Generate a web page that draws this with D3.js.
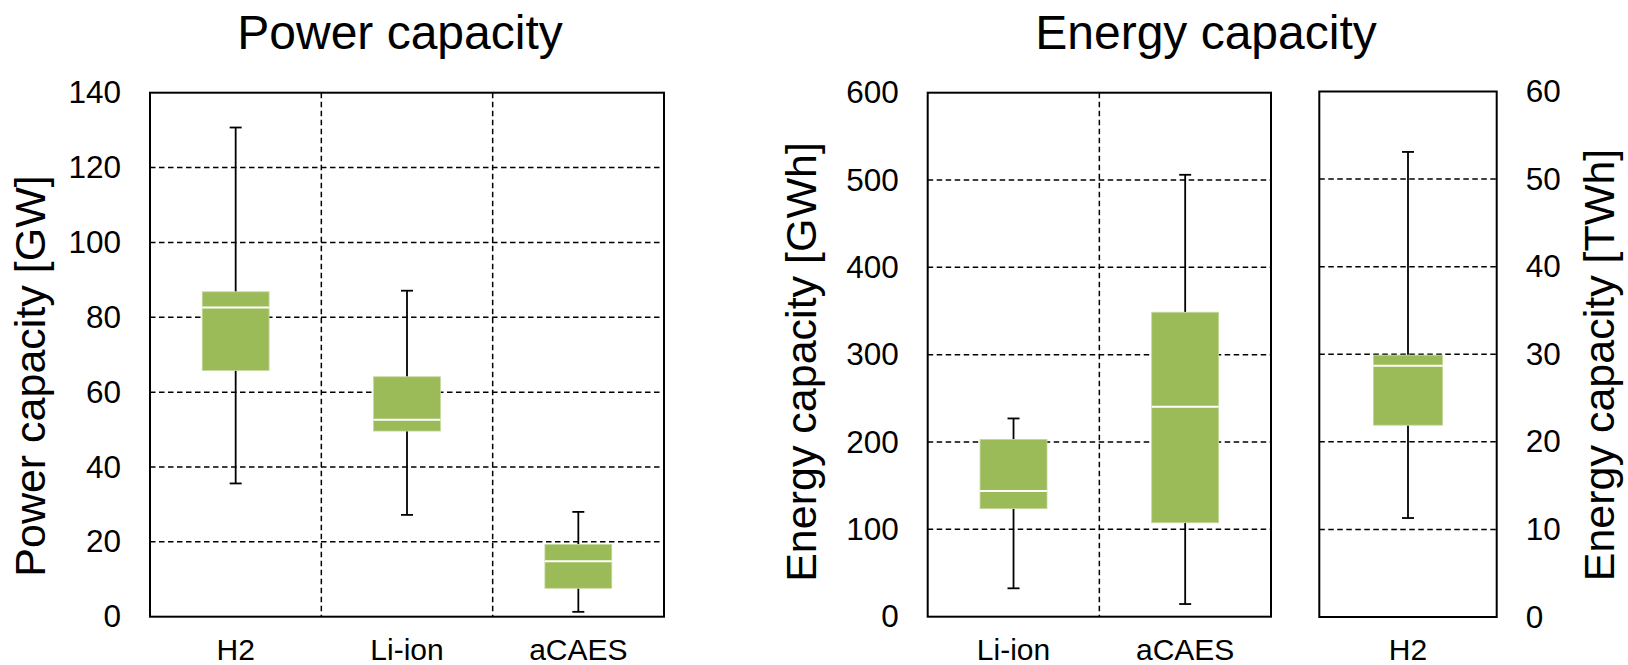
<!DOCTYPE html>
<html>
<head>
<meta charset="utf-8">
<script src="https://cdn.jsdelivr.net/npm/d3@7"></script>
<style>
  body { margin: 0; background: #fff; }
  text { font-family: "Liberation Sans", Arial, sans-serif; fill: #000; }
</style>
</head>
<body>
<div id="chart"></div>
<script>
// power capacity [GW]
var powerCats = ["H2", "Li-ion", "aCAES"];
var powerMin = [35.6, 27.2, 1.3];
var powerQ1 = [65.8, 49.6, 7.6];
var powerMed = [82.6, 52.6, 14.8];
var powerQ3 = [86.8, 64.1, 19.3];
var powerMax = [130.7, 87.1, 28.0];
var powerTicks = [0, 20, 40, 60, 80, 100, 120, 140];

// energy capacity [GWh]
var energyCats = ["Li-ion", "aCAES"];
var energyMin = [32.5, 14.5];
var energyQ1 = [123.7, 107.6];
var energyMed = [144, 240.5];
var energyQ3 = [203, 348.6];
var energyMax = [227, 506];
var energyTicks = [0, 100, 200, 300, 400, 500, 600];

// energy capacity [TWh]
var h2Cats = ["H2"];
var h2Min = [11.3];
var h2Q1 = [21.9];
var h2Med = [28.7];
var h2Q3 = [29.9];
var h2Max = [53.1];
var h2Ticks = [0, 10, 20, 30, 40, 50, 60];

var W = 1628, H = 665;
var green = "#9bbb59";

var svg = d3.select("#chart").append("svg")
    .attr("width", W)
    .attr("height", H);

function drawPanel(o) {
  var x = d3.scaleBand().domain(o.cats).range([o.x0, o.x1]).padding(0);
  var y = d3.scaleLinear().domain([o.ticks[0], o.ticks[o.ticks.length - 1]]).range([o.y1, o.y0]);
  var g = svg.append("g");

  // horizontal dashed grid
  g.selectAll(".hgrid")
      .data(o.ticks.slice(1, -1))
    .enter().append("line")
      .attr("x1", o.x0).attr("x2", o.x1)
      .attr("y1", function(d) { return y(d); })
      .attr("y2", function(d) { return y(d); })
      .attr("stroke", "#000")
      .attr("stroke-width", 1.5)
      .attr("stroke-dasharray", "5.5,3.5");

  // vertical dashed separators
  g.selectAll(".vgrid")
      .data(o.cats.slice(1))
    .enter().append("line")
      .attr("x1", function(d) { return x(d); })
      .attr("x2", function(d) { return x(d); })
      .attr("y1", o.y0).attr("y2", o.y1)
      .attr("stroke", "#000")
      .attr("stroke-width", 1.5)
      .attr("stroke-dasharray", "5.5,3.5");

  var bw = x.bandwidth() * 0.39;
  var cap = 12;
  o.cats.forEach(function(c, i) {
    var cx = x(c) + x.bandwidth() / 2;
    // whiskers
    g.append("line")
        .attr("x1", cx).attr("x2", cx)
        .attr("y1", y(o.max[i])).attr("y2", y(o.q3[i]))
        .attr("stroke", "#000").attr("stroke-width", 1.8);
    g.append("line")
        .attr("x1", cx).attr("x2", cx)
        .attr("y1", y(o.q1[i])).attr("y2", y(o.min[i]))
        .attr("stroke", "#000").attr("stroke-width", 1.8);
    g.append("line")
        .attr("x1", cx - cap / 2).attr("x2", cx + cap / 2)
        .attr("y1", y(o.max[i])).attr("y2", y(o.max[i]))
        .attr("stroke", "#000").attr("stroke-width", 1.8);
    g.append("line")
        .attr("x1", cx - cap / 2).attr("x2", cx + cap / 2)
        .attr("y1", y(o.min[i])).attr("y2", y(o.min[i]))
        .attr("stroke", "#000").attr("stroke-width", 1.8);
    // box
    g.append("rect")
        .attr("x", cx - bw / 2)
        .attr("y", y(o.q3[i]))
        .attr("width", bw)
        .attr("height", y(o.q1[i]) - y(o.q3[i]))
        .attr("fill", green)
        .attr("stroke", "#c4d79b")
        .attr("stroke-width", 0.8);
    // median
    g.append("line")
        .attr("x1", cx - bw / 2).attr("x2", cx + bw / 2)
        .attr("y1", y(o.med[i])).attr("y2", y(o.med[i]))
        .attr("stroke", "#fff").attr("stroke-width", 2);
  });

  // frame
  g.append("rect")
      .attr("x", o.x0).attr("y", o.y0)
      .attr("width", o.x1 - o.x0).attr("height", o.y1 - o.y0)
      .attr("fill", "none")
      .attr("stroke", "#000")
      .attr("stroke-width", 2);

  // y axis
  var yAxis = o.right ? d3.axisRight(y) : d3.axisLeft(y);
  var ya = g.append("g")
      .attr("transform", "translate(" + (o.right ? o.x1 : o.x0) + ",0)")
      .call(yAxis.tickValues(o.ticks).tickSize(0).tickPadding(29).tickFormat(d3.format("d")));
  ya.select(".domain").remove();
  ya.selectAll("text").style("font-size", "31.5px").attr("font-family", null);

  // x axis
  var xa = g.append("g")
      .attr("transform", "translate(0," + o.y1 + ")")
      .call(d3.axisBottom(x).tickSize(0).tickPadding(22));
  xa.select(".domain").remove();
  xa.selectAll("text").style("font-size", "30px").attr("font-family", null);
}

drawPanel({cats: powerCats, min: powerMin, q1: powerQ1, med: powerMed, q3: powerQ3, max: powerMax,
  ticks: powerTicks, x0: 150, x1: 664, y0: 92.7, y1: 616.7});
drawPanel({cats: energyCats, min: energyMin, q1: energyQ1, med: energyMed, q3: energyQ3, max: energyMax,
  ticks: energyTicks, x0: 927.7, x1: 1271, y0: 92.7, y1: 616.7});
drawPanel({cats: h2Cats, min: h2Min, q1: h2Q1, med: h2Med, q3: h2Q3, max: h2Max,
  ticks: h2Ticks, x0: 1319.3, x1: 1496.7, y0: 91.5, y1: 617, right: true});

// titles
svg.append("text").attr("x", 400).attr("y", 49)
    .attr("text-anchor", "middle").style("font-size", "48px").text("Power capacity");
svg.append("text").attr("x", 1206).attr("y", 49)
    .attr("text-anchor", "middle").style("font-size", "48px").text("Energy capacity");

// axis titles
svg.append("text").attr("transform", "translate(45,376) rotate(-90)")
    .attr("text-anchor", "middle").style("font-size", "43px").text("Power capacity [GW]");
svg.append("text").attr("transform", "translate(816,362) rotate(-90)")
    .attr("text-anchor", "middle").style("font-size", "43px").text("Energy capacity [GWh]");
svg.append("text").attr("transform", "translate(1614,365) rotate(-90)")
    .attr("text-anchor", "middle").style("font-size", "43px").text("Energy capacity [TWh]");
</script>
</body>
</html>
